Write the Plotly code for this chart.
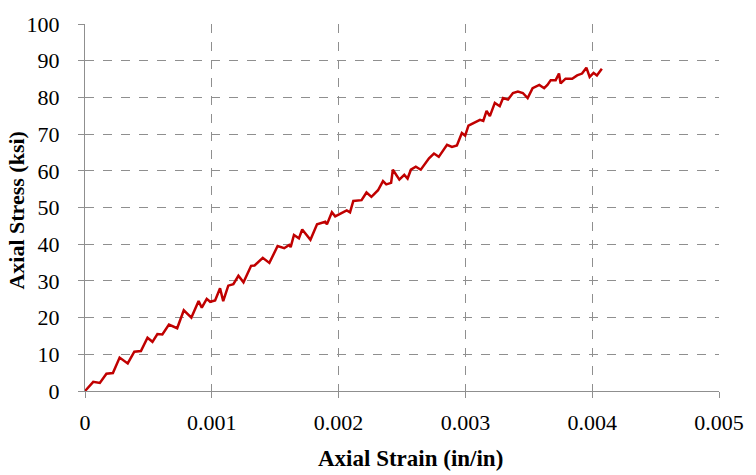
import plotly.graph_objects as go

strain = [0.0, 0.000065, 0.000117, 0.000169, 0.00022, 0.000273, 0.000337, 0.000389, 0.000441, 0.000493,
          0.000532, 0.000571, 0.00061, 0.000662, 0.000727, 0.000779, 0.000839, 0.000896, 0.000921, 0.00096,
          0.000987, 0.001026, 0.001065, 0.00109, 0.00113, 0.00117, 0.00121, 0.00125, 0.00131, 0.001337,
          0.001402, 0.001454, 0.001519, 0.001571, 0.00161, 0.001622, 0.001648, 0.001687, 0.001713, 0.001778,
          0.00183, 0.001895, 0.001908, 0.001947, 0.001973, 0.002012, 0.002064, 0.00209, 0.002116, 0.002181,
          0.00222, 0.002259, 0.002311, 0.00235, 0.002376, 0.002414, 0.002428, 0.002479, 0.002518, 0.002544,
          0.00257, 0.002609, 0.002648, 0.002713, 0.002752, 0.00279, 0.002855, 0.002894, 0.002933, 0.002972,
          0.002998, 0.003024, 0.003076, 0.003115, 0.003141, 0.003167, 0.003193, 0.003232, 0.003271, 0.003297,
          0.003336, 0.003375, 0.003414, 0.003453, 0.003491, 0.00353, 0.003583, 0.003621, 0.003647, 0.003673,
          0.003712, 0.003738, 0.003751, 0.00379, 0.003842, 0.003881, 0.00392, 0.003954, 0.00398, 0.004011,
          0.004037, 0.004076]

stress = [0.0, 2.5, 2.2, 4.7, 4.9, 9.1, 7.5, 10.7, 10.9, 14.5,
          13.4, 15.5, 15.4, 18.1, 17.1, 22.0, 20.0, 24.5, 22.7, 25.1,
          24.3, 24.7, 28.0, 24.5, 28.7, 29.1, 31.4, 29.6, 34.1, 34.2,
          36.3, 34.9, 39.5, 38.9, 39.8, 39.2, 42.5, 41.6, 44.0, 41.2,
          45.4, 46.1, 45.4, 48.7, 47.6, 48.3, 49.2, 48.7, 51.8, 52.0,
          54.1, 52.9, 54.7, 57.2, 56.3, 56.7, 60.3, 57.6, 58.9, 57.9,
          60.3, 61.1, 60.3, 63.4, 64.7, 63.8, 67.1, 66.5, 66.9, 70.3,
          69.6, 72.3, 73.3, 73.9, 73.6, 76.3, 74.9, 78.5, 77.6, 79.8,
          79.4, 81.2, 81.6, 81.2, 79.8, 82.5, 83.4, 82.5, 83.4, 84.7,
          84.7, 86.5, 83.8, 85.1, 85.1, 86.0, 86.5, 88.1, 85.6, 86.7,
          86.0, 87.8]

x_tickvals = [0, 0.001, 0.002, 0.003, 0.004, 0.005]
x_ticktext = ["0", "0.001", "0.002", "0.003", "0.004", "0.005"]
y_tickvals = [0, 10, 20, 30, 40, 50, 60, 70, 80, 90, 100]

x_title = "Axial Strain (in/in)"
y_title = "Axial Stress (ksi)"

serif = "Liberation Serif"
grid_col = "#8f8f8f"

fig = go.Figure()
fig.add_trace(go.Scatter(x=strain, y=stress, mode="lines",
                         line=dict(color="#C00000", width=2.5), showlegend=False))

fig.update_layout(
    width=756, height=475,
    margin=dict(l=85, r=29, t=16, b=84),
    paper_bgcolor="white", plot_bgcolor="white",
    font=dict(family=serif, size=22, color="black"),
    xaxis=dict(range=[0, 0.005], tickvals=x_tickvals, ticktext=x_ticktext,
               showgrid=True, gridcolor=grid_col, griddash="dash", gridwidth=1,
               zeroline=False, showline=True, linecolor=grid_col, linewidth=1.3,
               ticks="outside", ticklen=6, tickcolor=grid_col, ticklabelstandoff=5,
               tickfont=dict(family=serif, size=22, color="black")),
    yaxis=dict(range=[0, 100], tickvals=y_tickvals,
               showgrid=True, gridcolor=grid_col, griddash="dash", gridwidth=1,
               zeroline=False, showline=True, linecolor=grid_col, linewidth=1.3,
               ticks="outside", ticklen=6, tickcolor=grid_col, ticklabelstandoff=14,
               tickfont=dict(family=serif, size=22, color="black")),
    annotations=[
        dict(text="<b>" + x_title + "</b>", xref="paper", yref="paper",
             x=0.513, y=-0.184, xanchor="center", yanchor="middle",
             showarrow=False, font=dict(family=serif, size=23, color="black")),
        dict(text="<b>" + y_title + "</b>", xref="paper", yref="paper",
             x=-0.108, y=0.493, xanchor="center", yanchor="middle", textangle=-90,
             showarrow=False, font=dict(family=serif, size=22, color="black")),
    ],
)

fig.write_html("out.html")
